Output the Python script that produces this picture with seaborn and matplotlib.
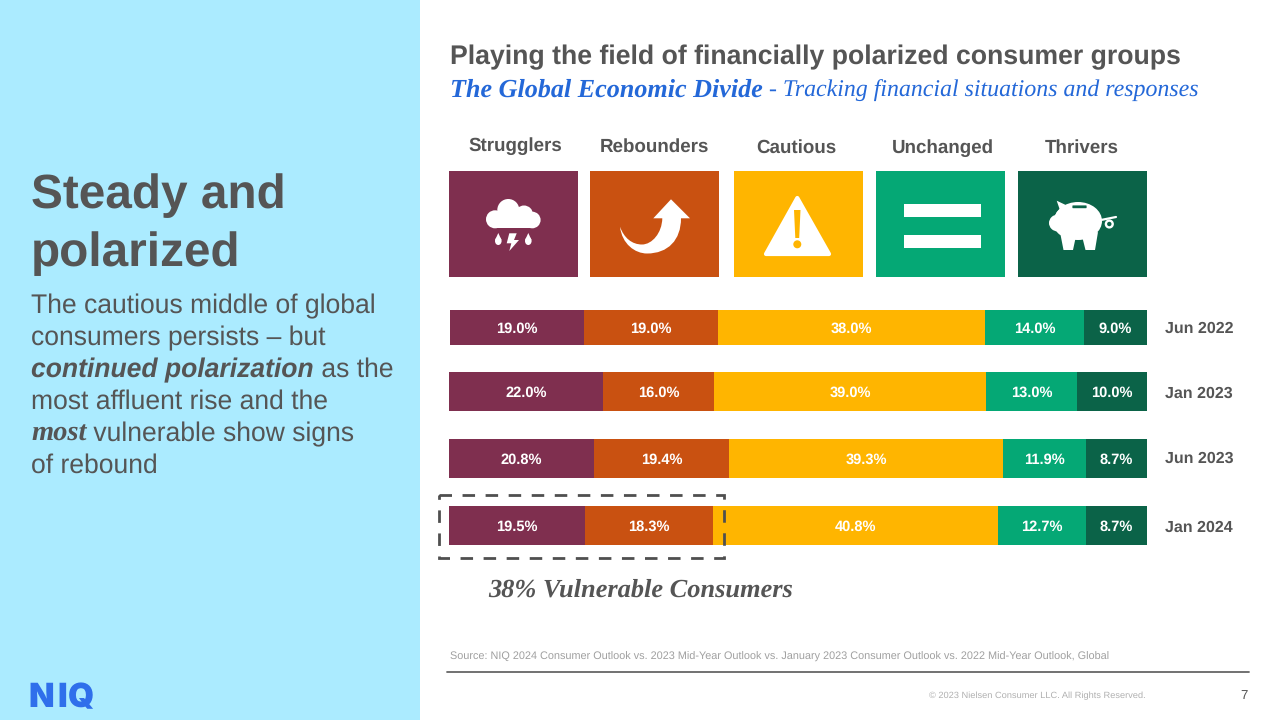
import matplotlib
matplotlib.use("Agg")
import matplotlib.pyplot as plt
from matplotlib.patches import Rectangle, Circle, Ellipse, Polygon, PathPatch, FancyBboxPatch
from matplotlib.path import Path
import seaborn as sns

SEGMENTS = ["Strugglers", "Rebounders", "Cautious", "Unchanged", "Thrivers"]
COLORS = ["#7F2F4F", "#C95111", "#FFB500", "#05A875", "#0B6348"]
PERIODS = ["Jun 2022", "Jan 2023", "Jun 2023", "Jan 2024"]
JUN_2022 = [19.0, 19.0, 38.0, 14.0, 9.0]
JAN_2023 = [22.0, 16.0, 39.0, 13.0, 10.0]
JUN_2023 = [20.8, 19.4, 39.3, 11.9, 8.7]
JAN_2024 = [19.5, 18.3, 40.8, 12.7, 8.7]
SHARES = [JUN_2022, JAN_2023, JUN_2023, JAN_2024]

W, H = 1280, 720
GREY = "#555555"
PANEL = "#ABEBFF"
BLUE = "#2F6FEB"
SANS = "Liberation Sans"
SERIF = "Liberation Serif"

sns.set_theme(style="white")
plt.rcParams["font.family"] = [SANS, "DejaVu Sans"]
plt.rcParams["text.hinting"] = "no_hinting"

fig = plt.figure(figsize=(W / 100, H / 100), dpi=100, facecolor="white")

# Full-figure layer in pixel units for the slide furniture
ov = fig.add_axes([0, 0, 1, 1], zorder=5)
ov.set_xlim(0, W)
ov.set_ylim(H, 0)
ov.axis("off")
ov.patch.set_alpha(0)


def px_axes(x0, x1, y0, y1):
    return fig.add_axes([x0 / W, 1 - y1 / H, (x1 - x0) / W, (y1 - y0) / H], zorder=2)


def stacked_bar(ax, label, values):
    left = 0.0
    for value, colour in zip(values, COLORS):
        sns.barplot(x=[value], y=[label], left=left, width=1, color=colour,
                    saturation=1, linewidth=0, orient="h", ax=ax)
        ax.text(left + value / 2, 0.03, f"{value:.1f}%", color="white", ha="center",
                va="center", fontsize=10.5, fontweight="bold", family=SANS)
        left += value
    ax.set_xlim(0, sum(values))
    ax.set_ylim(0.5, -0.5)
    ax.axis("off")


ROWS = [(450, 1147, 310, 345, 329), (449, 1147, 372, 411, 394),
        (449, 1147, 439, 478, 459), (449, 1147, 506, 545, 528)]
for (x0, x1, y0, y1, ly), period, values in zip(ROWS, PERIODS, SHARES):
    stacked_bar(px_axes(x0, x1, y0, y1), period, values)
    ov.text(1165, ly, period, color=GREY, fontsize=11.5, fontweight="bold",
            va="center", ha="left")


def run(x, y, pieces, size):
    """Lay out differently styled pieces of text one after another on a baseline."""
    rend = fig.canvas.get_renderer()
    for txt, style in pieces:
        style = dict(style)
        colour = style.pop("color", GREY)
        fs = style.pop("size", size)
        t = ov.text(x, y, txt, fontsize=fs, color=colour, va="baseline", ha="left", **style)
        x += t.get_window_extent(rend).width


# Left panel
ov.add_patch(Rectangle((0, 0), 420, H, fc=PANEL, ec="none"))
ov.text(31, 208, "Steady and", fontsize=34.4, fontweight="bold", color=GREY)
ov.text(31, 266, "polarized", fontsize=34.4, fontweight="bold", color=GREY)
BODY = 19.1
run(31, 313, [("The cautious middle of global", {})], BODY)
run(31, 345, [("consumers persists – but", {})], BODY)
run(31, 377, [("continued polarization", {"fontweight": "bold", "fontstyle": "italic"}),
              (" as the", {})], BODY)
run(31, 409, [("most affluent rise and the", {})], BODY)
run(31, 441, [("most", {"fontweight": "bold", "fontstyle": "italic", "family": SERIF, "size": 20.5}),
              (" vulnerable show signs", {})], BODY)
run(31, 473, [("of rebound", {})], BODY)

# Wordmark, letter by letter for its open tracking
for letter, lx in zip("NIQ", (28, 57, 68)):
    ov.text(lx, 707, letter, fontsize=24, fontweight="black", color=BLUE, family="Inter")

# Right-hand heading
ov.text(450, 64, "Playing the field of financially polarized consumer groups",
        fontsize=19.15, fontweight="bold", color=GREY)
run(450, 97, [("The Global Economic Divide", {"family": SERIF, "fontweight": "bold", "size": 18.8,
                                             "fontstyle": "italic", "color": "#2468D8"}),
              (" - Tracking financial situations and responses",
               {"family": SERIF, "fontstyle": "italic", "color": "#2468D8", "size": 17.2})], 17)

# Segment headers and tiles
HEAD_X = [515, 654, 796, 943, 1082]
HEAD_Y = [146, 147, 148, 148, 148]
TILE_X = [449, 590, 734, 876, 1018]
for name, hx, hy, tx, colour in zip(SEGMENTS, HEAD_X, HEAD_Y, TILE_X, COLORS):
    ov.text(hx, hy, name, color=GREY, fontsize=13.5, fontweight="bold", ha="center", va="center")
    ov.add_patch(Rectangle((tx, 171), 129, 106, fc=colour, ec="none"))


def white(patch):
    patch.set_facecolor("white")
    patch.set_edgecolor("none")
    ov.add_patch(patch)


# Storm cloud
for cx, cy, r in [(508.3, 210, 11), (495, 219.3, 9), (532.3, 220, 8.3), (524, 214.5, 9)]:
    white(Circle((cx, cy), r))
white(Rectangle((495, 215), 37, 13.3))
for cx in (498.3, 528.3):
    white(Ellipse((cx, 241), 6.6, 8))
    white(Polygon([(cx - 3.2, 240), (cx, 233), (cx + 3.2, 240)]))
white(Polygon([(509.3, 233.3), (516.7, 233.3), (514, 240), (519, 240), (509.3, 251),
               (511.3, 243.3), (506.7, 243.3)]))

# Rebound arrow
M, L, C = Path.MOVETO, Path.LINETO, Path.CURVE4
arrow_pts = [(620, 226.7), (622, 244), (635, 253.5), (647, 253.5), (668, 253.5), (681, 240), (681, 218.3),
             (690, 218.3), (671, 199.3), (653.3, 218.3), (662.3, 218.3),
             (662, 233), (652, 244.5), (642, 244.5), (632, 244.5), (624, 238), (620, 226.7)]
arrow_ops = [M, C, C, C, C, C, C, L, L, L, L, C, C, C, C, C, C]
white(PathPatch(Path(arrow_pts, arrow_ops)))

# Warning triangle
ov.add_patch(Polygon([(797.3, 198), (829, 254), (766, 254)], fc="white", ec="white", lw=3, joinstyle="round"))
ov.add_patch(Polygon([(794, 210), (800.5, 210), (799.2, 238), (795.3, 238)], fc=COLORS[2], ec="none"))
ov.add_patch(Circle((797.3, 244.3), 4, fc=COLORS[2], ec="none"))

# Equals sign
white(Rectangle((904, 204), 77, 13))
white(Rectangle((904, 235), 77, 13))

# Piggy bank
white(Ellipse((1078, 221), 48, 38))
white(Ellipse((1058, 223), 18, 17))
white(Ellipse((1064, 222), 20, 28))
white(Polygon([(1056.7, 200.7), (1070, 207), (1062, 216)]))
white(Polygon([(1060, 232), (1076, 236), (1073, 250), (1063.5, 250)]))
white(Polygon([(1082, 236), (1098, 232), (1095, 250), (1085.5, 250)]))
ov.add_patch(FancyBboxPatch((1073, 206), 13, 1.6, boxstyle="round,pad=0.6", fc=COLORS[4], ec="none"))
ov.plot([1101, 1116], [220, 217], color="white", lw=1.6)
ov.add_patch(Circle((1109.3, 224), 3.4, fc="none", ec="white", lw=1.7))

# Highlight around the vulnerable segments
ov.add_patch(Rectangle((439, 495), 285, 63, fc="none", ec="#4F4F4F", lw=2, linestyle=(0, (4.5, 3.8))))
ov.text(488, 597, "38% Vulnerable Consumers", family=SERIF, fontweight="bold", fontstyle="italic",
        fontsize=19, color=GREY)

# Footer
ov.text(450, 660, "Source: NIQ 2024 Consumer Outlook vs. 2023 Mid-Year Outlook vs. January 2023 "
        "Consumer Outlook vs. 2022 Mid-Year Outlook, Global", fontsize=7.8, color="#A0A0A0")
ov.plot([447, 1249], [671.5, 671.5], color="#666666", lw=1.3)
ov.text(1146, 696, "© 2023 Nielsen Consumer LLC. All Rights Reserved.", fontsize=6.7,
        color="#B0B0B0", ha="right", va="center")
ov.text(1248, 696, "7", fontsize=9.5, color=GREY, ha="right", va="center")

fig.savefig("out.png", dpi=100)
